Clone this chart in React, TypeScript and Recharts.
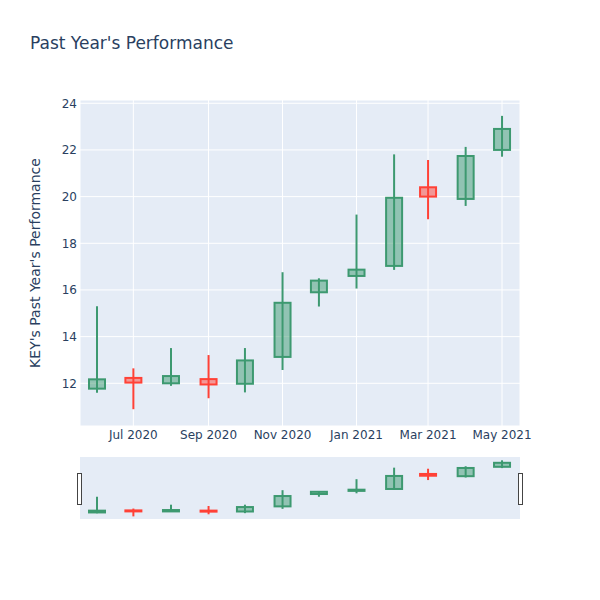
import {Bar, CartesianGrid, ComposedChart, XAxis, YAxis} from 'recharts';

// monthly candles, Jun 2020 - May 2021
const months = [
	Date.UTC(2020, 5, 1),
	Date.UTC(2020, 6, 1),
	Date.UTC(2020, 7, 1),
	Date.UTC(2020, 8, 1),
	Date.UTC(2020, 9, 1),
	Date.UTC(2020, 10, 1),
	Date.UTC(2020, 11, 1),
	Date.UTC(2021, 0, 1),
	Date.UTC(2021, 1, 1),
	Date.UTC(2021, 2, 1),
	Date.UTC(2021, 3, 1),
	Date.UTC(2021, 4, 1),
];
const opens = [11.77, 12.23, 12.0, 12.18, 11.98, 13.13, 15.9, 16.6, 17.03, 20.4, 19.9, 22.0];
const highs = [15.3, 12.64, 13.51, 13.21, 13.51, 16.76, 16.5, 19.23, 21.81, 21.57, 22.13, 23.46];
const lows = [11.6, 10.89, 11.89, 11.36, 11.61, 12.57, 15.29, 16.06, 16.86, 19.03, 19.6, 21.71];
const closes = [12.17, 12.03, 12.31, 11.95, 12.98, 15.45, 16.4, 16.87, 19.95, 20.0, 21.74, 22.9];

const xTicks = [
	Date.UTC(2020, 6, 1),
	Date.UTC(2020, 8, 1),
	Date.UTC(2020, 10, 1),
	Date.UTC(2021, 0, 1),
	Date.UTC(2021, 2, 1),
	Date.UTC(2021, 4, 1),
];
const yTicks = [12, 14, 16, 18, 20, 22, 24];
const monthNames = ['Jan', 'Feb', 'Mar', 'Apr', 'May', 'Jun', 'Jul', 'Aug', 'Sep', 'Oct', 'Nov', 'Dec'];

const xDomain = [Date.UTC(2020, 4, 18), Date.UTC(2021, 4, 15, 20)];

const data = months.map((t, i) => ({
	t,
	open: opens[i],
	high: highs[i],
	low: lows[i],
	close: closes[i],
	range: [lows[i], highs[i]],
}));

const UP = '#3D9970';
const DOWN = '#FF4136';
const FONT = '"DejaVu Sans", verdana, arial, sans-serif';
const TEXT = '#2a3f5f';

function Candle(props: any) {
	const {x, y, width, height, payload} = props;
	if (payload == null || height == null) return null;
	const {open, close, high, low} = payload;
	const toY = (v: number) => y + ((high - v) / (high - low)) * height;
	const up = close >= open;
	const color = up ? UP : DOWN;
	const cx = x + width / 2;
	const top = toY(Math.max(open, close));
	const bottom = toY(Math.min(open, close));
	return (
		<g>
			<line x1={cx} x2={cx} y1={y} y2={y + height} stroke={color} strokeWidth={2} />
			<rect
				x={x + 1}
				y={top}
				width={width - 2}
				height={Math.max(bottom - top, 1)}
				fill={up ? 'rgba(61,153,112,0.5)' : 'rgba(255,65,54,0.5)'}
				stroke={color}
				strokeWidth={2}
			/>
		</g>
	);
}

const fmtTick = (t: number) => {
	const d = new Date(t);
	return `${monthNames[d.getUTCMonth()]} ${d.getUTCFullYear()}`;
};

const handle = (left: number) => ({
	position: 'absolute' as const,
	left,
	top: 473,
	width: 3,
	height: 30,
	background: '#fff',
	border: '1px solid #444',
});

export default function App() {
	return (
		<div
			style={{
				position: 'absolute',
				left: 0,
				top: 0,
				width: 600,
				height: 600,
				background: '#fff',
				fontFamily: FONT,
			}}
		>
			<div
				style={{
					position: 'absolute',
					left: 30,
					top: 33,
					fontSize: 17,
					color: TEXT,
					whiteSpace: 'nowrap',
				}}
			>
				Past Year's Performance
			</div>
			<div style={{position: 'absolute', left: 0, top: 0}}>
				<ComposedChart
					width={600}
					height={450}
					data={data}
					margin={{top: 100, right: 80, bottom: 0, left: 30}}
				>
					<CartesianGrid fill="#E5ECF6" stroke="#fff" strokeWidth={1} />
					<XAxis
						dataKey="t"
						type="number"
						scale="time"
						domain={xDomain}
						ticks={xTicks}
						tickFormatter={fmtTick}
						axisLine={false}
						tickLine={false}
						tickSize={0}
						tickMargin={4}
						height={24}
						tick={{fill: TEXT, fontSize: 12, fontFamily: FONT}}
					/>
					<YAxis
						type="number"
						domain={[10.17, 24.14]}
						ticks={yTicks}
						axisLine={false}
						tickLine={false}
						tickSize={0}
						tickMargin={3}
						width={50}
						tick={{fill: TEXT, fontSize: 12, fontFamily: FONT}}
						label={{
							value: "KEY's Past Year's Performance",
							angle: -90,
							position: 'insideLeft',
							offset: 5,
							style: {textAnchor: 'middle', fill: TEXT, fontSize: 14, fontFamily: FONT},
						}}
					/>
					<Bar dataKey="range" barSize={18} shape={Candle} isAnimationActive={false} />
				</ComposedChart>
			</div>
			<div style={{position: 'absolute', left: 0, top: 457}}>
				<ComposedChart
					width={600}
					height={62}
					data={data}
					margin={{top: 0, right: 80, bottom: 0, left: 80}}
				>
					<CartesianGrid fill="#E5ECF6" horizontal={false} vertical={false} stroke="none" />
					<XAxis dataKey="t" type="number" scale="time" domain={xDomain} hide />
					<YAxis type="number" domain={[10.3, 24.2]} hide />
					<Bar dataKey="range" barSize={18} shape={Candle} isAnimationActive={false} />
				</ComposedChart>
			</div>
			<div style={handle(77)} />
			<div style={handle(518)} />
		</div>
	);
}
